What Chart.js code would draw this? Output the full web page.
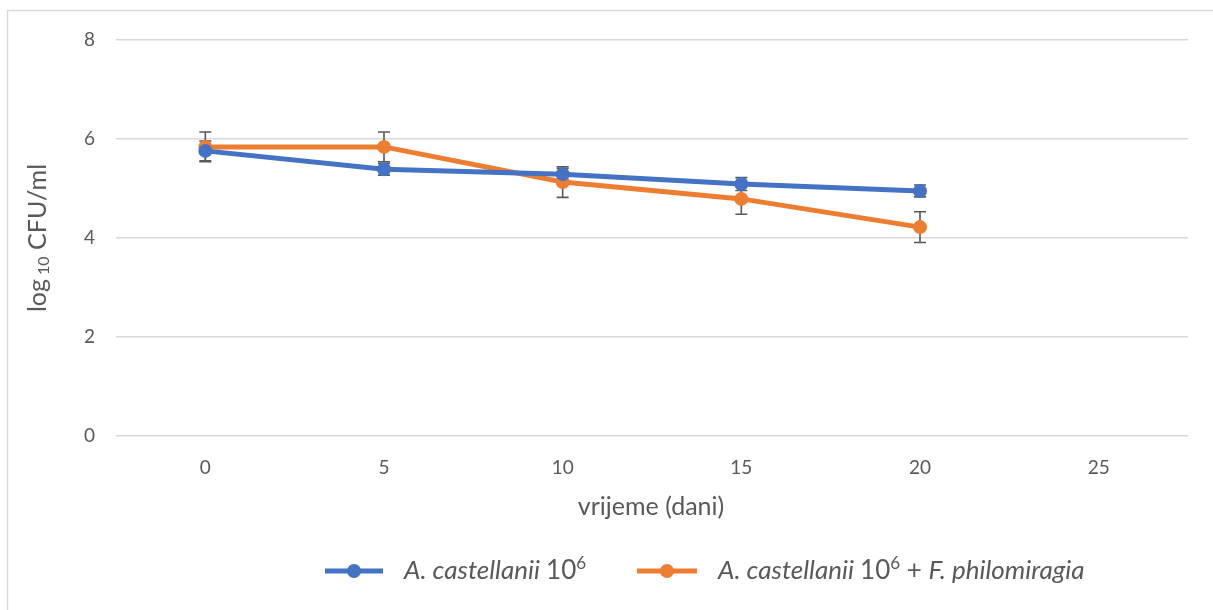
<!DOCTYPE html>
<html lang="hr">
<head>
  <meta charset="UTF-8">
  <title>log10 CFU/ml kroz vrijeme</title>
  <script src="https://cdn.jsdelivr.net/npm/chart.js"></script>
  <style>
    * { margin: 0; padding: 0; box-sizing: border-box; }
    body { background: #fff; width: 1213px; height: 610px; overflow: hidden; }
    #wrap { width: 1213px; height: 610px; position: relative; }
  </style>
</head>
<body>
  <div id="wrap"><canvas id="graf"></canvas></div>

  <script>
    // podaci
    const dani = [0, 5, 10, 15, 20];
    const acSam = [5.76, 5.39, 5.29, 5.09, 4.95];
    const acSamErr = [0.2, 0.12, 0.12, 0.13, 0.12];
    const acFp = [5.84, 5.84, 5.13, 4.79, 4.22];
    const acFpErr = [0.3, 0.3, 0.31, 0.31, 0.31];
    const xTicks = [0, 5, 10, 15, 20, 25];
    const yTicks = [0, 2, 4, 6, 8];
    const xNaslov = 'vrijeme (dani)';

    const FONT = "Lato, 'Open Sans', sans-serif";
    const PLAVA = '#4472C4';
    const NARANCASTA = '#ED7D31';
    const SIVA = '#595959';

    const toPoints = (ys) => dani.map((d, i) => ({ x: d, y: ys[i] }));

    // okvir, error barovi, naslovi osi i legenda
    const extras = {
      id: 'extras',
      beforeDraw(chart) {
        const ctx = chart.ctx;
        ctx.save();
        ctx.fillStyle = '#fff';
        ctx.fillRect(0, 0, chart.width, chart.height);
        ctx.strokeStyle = '#d9d9d9';
        ctx.lineWidth = 1.5;
        ctx.strokeRect(7.5, 10.5, chart.width + 20, chart.height + 20);
        ctx.restore();
      },
      beforeDatasetsDraw(chart) {
        const ctx = chart.ctx;
        const xs = chart.scales.x, ys = chart.scales.y;
        const errs = [acSamErr, acFpErr];
        ctx.save();
        ctx.strokeStyle = SIVA;
        ctx.lineWidth = 1.6;
        chart.data.datasets.forEach((ds, k) => {
          ds.data.forEach((p, i) => {
            const px = xs.getPixelForValue(p.x);
            const top = ys.getPixelForValue(p.y + errs[k][i]);
            const bot = ys.getPixelForValue(p.y - errs[k][i]);
            ctx.beginPath();
            ctx.moveTo(px, top); ctx.lineTo(px, bot);
            ctx.moveTo(px - 6, top); ctx.lineTo(px + 6, top);
            ctx.moveTo(px - 6, bot); ctx.lineTo(px + 6, bot);
            ctx.stroke();
          });
        });
        ctx.restore();
      },
      afterDraw(chart) {
        const ctx = chart.ctx;
        const xs = chart.scales.x, ys = chart.scales.y;
        ctx.save();
        ctx.fillStyle = SIVA;
        ctx.textBaseline = 'middle';

        // naslov x osi
        ctx.font = '25px ' + FONT;
        ctx.textAlign = 'center';
        ctx.fillText(xNaslov, (xs.left + xs.right) / 2 - 1, 507);
        ctx.textAlign = 'left';

        // naslov y osi: log10 CFU/ml
        const cy = (ys.top + ys.bottom) / 2;
        ctx.translate(38, cy);
        ctx.rotate(-Math.PI / 2);
        const runsY = [
          { t: 'log', f: '25px ' + FONT, dy: 0 },
          { t: ' 10', f: '16px ' + FONT, dy: 6 },
          { t: ' CFU/ml', f: '25px ' + FONT, dy: 0 }
        ];
        let w = 0;
        runsY.forEach(r => { ctx.font = r.f; w += ctx.measureText(r.t).width; });
        let x = -w / 2;
        runsY.forEach(r => {
          ctx.font = r.f;
          ctx.fillText(r.t, x, r.dy);
          x += ctx.measureText(r.t).width;
        });
        ctx.setTransform(1, 0, 0, 1, 0, 0);
        ctx.scale(chart.currentDevicePixelRatio, chart.currentDevicePixelRatio);

        // legenda
        const ly = 571;
        const stavke = [
          { boja: PLAVA, x0: 325, x1: 383, tx: 404, runs: [
            { t: 'A. castellanii ', f: 'italic 26px ' + FONT, dy: 0 },
            { t: '10', f: '26px ' + FONT, dy: 0 },
            { t: '6', f: '17px ' + FONT, dy: -7 }
          ] },
          { boja: NARANCASTA, x0: 637, x1: 697, tx: 718, runs: [
            { t: 'A. castellanii ', f: 'italic 26px ' + FONT, dy: 0 },
            { t: '10', f: '26px ' + FONT, dy: 0 },
            { t: '6', f: '17px ' + FONT, dy: -7 },
            { t: ' + ', f: '26px ' + FONT, dy: 0 },
            { t: 'F. philomiragia', f: 'italic 26px ' + FONT, dy: 0 }
          ] }
        ];
        stavke.forEach(s => {
          ctx.strokeStyle = s.boja;
          ctx.lineWidth = 5;
          ctx.beginPath();
          ctx.moveTo(s.x0, ly); ctx.lineTo(s.x1, ly);
          ctx.stroke();
          ctx.fillStyle = s.boja;
          ctx.beginPath();
          ctx.arc((s.x0 + s.x1) / 2, ly, 7, 0, Math.PI * 2);
          ctx.fill();
          ctx.fillStyle = SIVA;
          let tx = s.tx;
          s.runs.forEach(r => {
            ctx.font = r.f;
            ctx.fillText(r.t, tx, ly + r.dy);
            tx += ctx.measureText(r.t).width;
          });
        });
        ctx.restore();
      }
    };

    new Chart(document.getElementById('graf').getContext('2d'), {
      type: 'line',
      data: {
        datasets: [
          {
            label: 'A. castellanii 10^6',
            data: toPoints(acSam),
            borderColor: PLAVA,
            backgroundColor: PLAVA,
            borderWidth: 5,
            pointRadius: 7,
            pointHoverRadius: 7,
            pointBorderWidth: 0,
            tension: 0
          },
          {
            label: 'A. castellanii 10^6 + F. philomiragia',
            data: toPoints(acFp),
            borderColor: NARANCASTA,
            backgroundColor: NARANCASTA,
            borderWidth: 5,
            pointRadius: 7,
            pointHoverRadius: 7,
            pointBorderWidth: 0,
            tension: 0
          }
        ]
      },
      options: {
        responsive: true,
        maintainAspectRatio: false,
        animation: false,
        layout: { padding: { left: 22, right: 25, top: 40, bottom: 70 } },
        plugins: {
          legend: { display: false },
          tooltip: { enabled: false }
        },
        scales: {
          x: {
            type: 'linear',
            min: -2.5,
            max: 27.5,
            afterBuildTicks: (s) => { s.ticks = xTicks.map(v => ({ value: v })); },
            afterFit: (s) => { s.height = 104; },
            grid: { display: false, drawTicks: false },
            border: { display: false },
            ticks: { color: SIVA, font: { family: FONT, size: 19 }, padding: 20 }
          },
          y: {
            min: 0,
            max: 8,
            afterBuildTicks: (s) => { s.ticks = yTicks.map(v => ({ value: v })); },
            afterFit: (s) => { s.width = 94; },
            grid: { color: '#d9d9d9', lineWidth: 1.4, drawTicks: false },
            border: { display: false },
            ticks: { color: SIVA, font: { family: FONT, size: 19 }, padding: 21 }
          }
        }
      },
      plugins: [extras]
    });
  </script>
</body>
</html>
